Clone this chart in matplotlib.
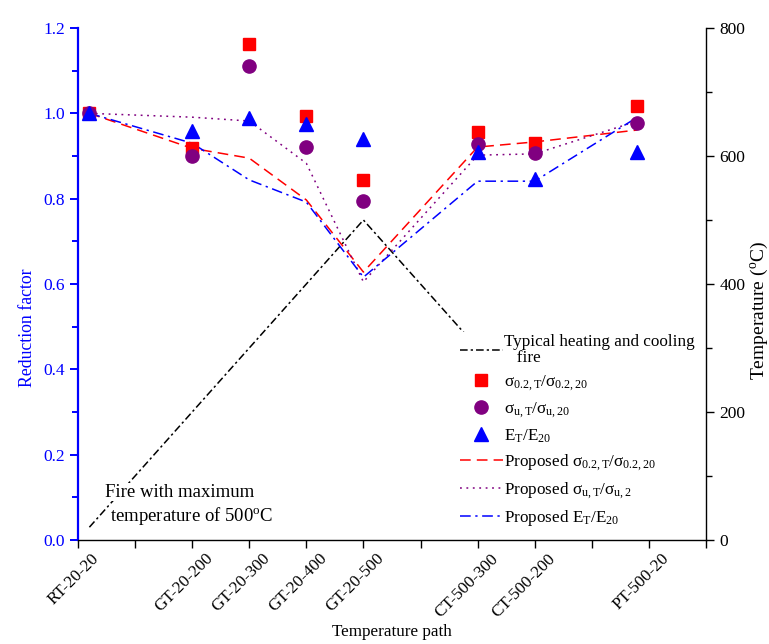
import matplotlib
matplotlib.use("Agg")
import matplotlib.pyplot as plt
from matplotlib.ticker import MultipleLocator, FormatStrFormatter

plt.rcParams['font.family'] = ['Liberation Serif', 'DejaVu Serif']
plt.rcParams['mathtext.fontset'] = 'custom'
plt.rcParams['mathtext.rm'] = 'Liberation Serif'
plt.rcParams['mathtext.it'] = 'Liberation Serif:italic'
plt.rcParams['mathtext.default'] = 'regular'

# ---- data ----
categories = ['RT-20-20', 'GT-20-200', 'GT-20-300', 'GT-20-400', 'GT-20-500',
              'CT-500-300', 'CT-500-200', 'PT-500-20']
tick_pos = [0, 2, 3, 4, 5, 7, 8, 10]
x_pos = [0.2, 2, 3, 4, 5, 7, 8, 9.8]

sigma02_test = [1.00, 0.919, 1.162, 0.994, 0.844, 0.956, 0.930, 1.017]
sigmau_test = [1.00, 0.900, 1.111, 0.921, 0.795, 0.928, 0.907, 0.977]
E_test = [1.00, 0.958, 0.989, 0.975, 0.940, 0.909, 0.846, 0.909]

sigma02_prop = [1.00, 0.918, 0.895, 0.797, 0.628, 0.921, 0.933, 0.961]
sigmau_prop = [1.00, 0.991, 0.982, 0.883, 0.605, 0.902, 0.905, 0.982]
E_prop = [1.00, 0.930, 0.844, 0.792, 0.616, 0.841, 0.841, 0.991]

fire_x = [0.2, 5, 9.8]
fire_T = [20, 500, 20]

# ---- figure ----
fig = plt.figure(figsize=(7.69, 6.44), dpi=100)
ax = fig.add_axes([0.1014, 0.1615, 0.8166, 0.795])
ax2 = ax.twinx()

fs_tick = 12.5
fs_leg = 12.3
blue = '#0000ff'
red = '#ff0000'
purple = '#800080'

l_fire, = ax2.plot(fire_x, fire_T, color='black', lw=1.1,
                   linestyle=(0, (5, 2, 1.5, 2)),
                   label='Typical heating and cooling\n   fire')

s1, = ax.plot(x_pos, sigma02_test, 's', color=red, ms=8.5, ls='none',
              label=r'σ$_{0.2,T}$/σ$_{0.2,20}$', zorder=5)
s2, = ax.plot(x_pos, sigmau_test, 'o', color=purple, ms=9.5, ls='none',
              label=r'σ$_{u,T}$/σ$_{u,20}$', zorder=5)
s3, = ax.plot(x_pos, E_test, '^', color=blue, ms=10, ls='none',
              label=r'E$_{T}$/E$_{20}$', zorder=5)
p1, = ax.plot(x_pos, sigma02_prop, color=red, lw=1.1, ls=(0, (7, 4)),
              label=r'Proposed σ$_{0.2,T}$/σ$_{0.2,20}$')
p2, = ax.plot(x_pos, sigmau_prop, color=purple, lw=1.1, ls=(0, (1.2, 3)),
              label=r'Proposed σ$_{u,T}$/σ$_{u,2}$')
p3, = ax.plot(x_pos, E_prop, color=blue, lw=1.1, ls=(0, (7, 3, 1.5, 3)),
              label=r'Proposed E$_{T}$/E$_{20}$')

ax.set_xlim(0, 11)
ax.set_ylim(0, 1.2)
ax2.set_ylim(0, 800)

ax.set_xticks(range(0, 12))
ax.set_xticklabels([''] * 12)
for tp, cat in zip(tick_pos, categories):
    ax.text(tp + 0.22, -0.025, cat, rotation=45, ha='right', va='top',
            rotation_mode='anchor', fontsize=12.3, transform=ax.transData)

ax.yaxis.set_major_locator(MultipleLocator(0.2))
ax.yaxis.set_minor_locator(MultipleLocator(0.1))
ax.yaxis.set_major_formatter(FormatStrFormatter('%.1f'))
ax2.yaxis.set_major_locator(MultipleLocator(200))
ax2.yaxis.set_minor_locator(MultipleLocator(100))

for a in (ax, ax2):
    a.spines['top'].set_visible(False)
ax.spines['left'].set_color(blue)
ax.spines['left'].set_linewidth(1.6)
ax2.spines['left'].set_visible(False)
ax.spines['right'].set_visible(False)
ax2.spines['right'].set_linewidth(1.0)
ax2.spines['bottom'].set_visible(False)
ax.spines['bottom'].set_linewidth(1.0)

ax.tick_params(axis='y', colors=blue, labelcolor=blue, labelsize=fs_tick,
               direction='out', length=6, width=1.4)
ax.tick_params(axis='y', which='minor', colors=blue, length=4, width=1.4)
ax.tick_params(axis='x', direction='out', length=6, width=1.0)
ax2.tick_params(axis='y', labelsize=fs_tick, direction='out', length=6, width=1.0)
ax2.tick_params(axis='y', which='minor', length=4, width=1.0)

ax.set_ylabel('Reduction factor', color=blue, fontsize=12.8)
ax.yaxis.set_label_coords(-0.0796, 0.414)
ax.yaxis.label.set_verticalalignment('center')

ax2.set_ylabel('Temperature ($^{o}$C)', fontsize=14)
ax2.yaxis.set_label_coords(1.0845, 0.449)
ax2.yaxis.label.set_verticalalignment('center')

ax.set_xlabel('Temperature path', fontsize=12.3)
ax.xaxis.set_label_coords(0.5, -0.165)

tbox = dict(facecolor='white', edgecolor='none', pad=0.5)
ax.text(0.47, 0.092, 'Fire with maximum', fontsize=13.5,
        transform=ax.transData, ha='left', va='bottom', bbox=tbox, zorder=6)
ax.text(0.56, 0.03, 'temperature of 500$^{o}$C', fontsize=13.5,
        transform=ax.transData, ha='left', va='bottom', bbox=tbox, zorder=6)
ax.set_zorder(ax2.get_zorder() + 1)
ax.patch.set_visible(False)

handles = [l_fire, s1, s2, s3, p1, p2, p3]
leg = ax.legend(handles=handles, loc='upper left',
                bbox_to_anchor=(449 / 769, 1 - 323 / 644),
                bbox_transform=fig.transFigure, fontsize=fs_leg,
                frameon=True, framealpha=1, facecolor='white',
                edgecolor='none', handlelength=2.5, labelspacing=0.42,
                borderpad=0.15, handletextpad=0.05, fancybox=False)
leg.get_texts()[0].set_linespacing(1.0)

fig.savefig('out.png', dpi=100)
